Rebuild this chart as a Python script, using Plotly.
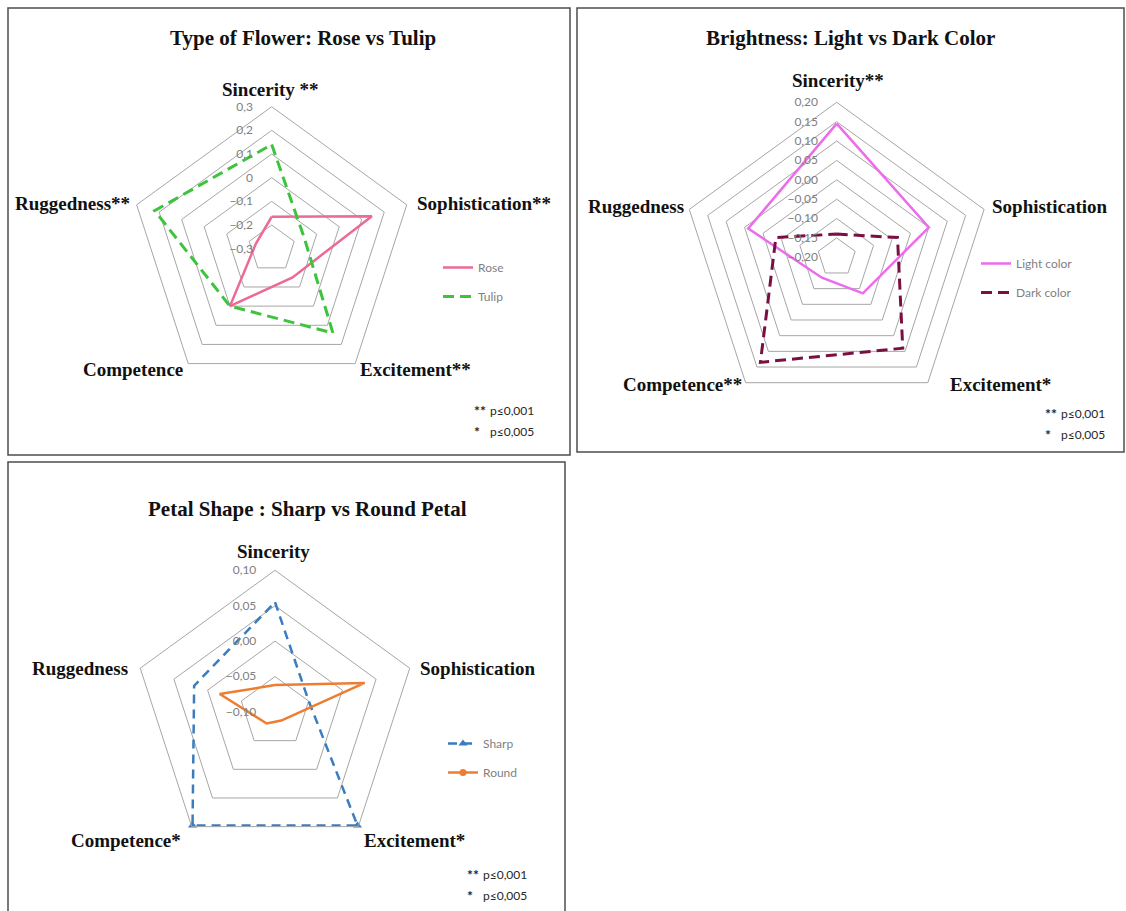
import plotly.graph_objects as go

# ---------------- data ----------------
axes = ["Sincerity", "Sophistication", "Excitement", "Competence", "Ruggedness"]

labels_flower = ["Sincerity **", "Sophistication**", "Excitement**", "Competence", "Ruggedness**"]
labels_bright = ["Sincerity**", "Sophistication", "Excitement*", "Competence**", "Ruggedness"]
labels_petal = ["Sincerity", "Sophistication", "Excitement*", "Competence*", "Ruggedness"]

rose = [-0.165, 0.145, -0.15, 0.0, -0.23]
tulip = [0.14, -0.155, 0.14, 0.0, 0.22]

light_color = [0.145, 0.05, -0.085, -0.135, 0.04]
dark_color = [-0.14, -0.035, 0.09, 0.135, -0.035]

sharp = [0.055, -0.05, 0.098, 0.098, 0.02]
round_petal = [-0.062, 0.033, -0.085, -0.08, -0.018]

titles = ["Type of Flower: Rose vs Tulip",
          "Brightness: Light vs Dark Color",
          "Petal Shape : Sharp vs Round Petal"]
footnote_stars = ["**", "*"]
footnote_text = ["p≤0,001", "p≤0,005"]

W, H = 1126, 911


def px(x):
    return x / W


def py(y):
    return (H - y) / H


def close(v):
    return list(v) + [v[0]]


fig = go.Figure()

thetas = close(axes)

fig.add_trace(go.Scatterpolar(r=close(rose), theta=thetas, mode="lines", name="Rose",
                              line=dict(color="#EC6A93", width=2.5), subplot="polar",
                              legend="legend", legendgroup="a"))
fig.add_trace(go.Scatterpolar(r=close(tulip), theta=thetas, mode="lines", name="Tulip",
                              line=dict(color="#3DC43D", width=3, dash="11px,6px"), subplot="polar",
                              legend="legend", legendgroup="b"))

fig.add_trace(go.Scatterpolar(r=close(light_color), theta=thetas, mode="lines", name="Light color",
                              line=dict(color="#EC6CEC", width=2.5), subplot="polar2",
                              legend="legend2", legendgroup="c"))
fig.add_trace(go.Scatterpolar(r=close(dark_color), theta=thetas, mode="lines", name="Dark color",
                              line=dict(color="#7A1042", width=3, dash="11px,6px"), subplot="polar2",
                              legend="legend2", legendgroup="d"))

fig.add_trace(go.Scatterpolar(r=close(sharp), theta=thetas, mode="lines+markers", name="Sharp",
                              line=dict(color="#3A7CC0", width=2.5, dash="9px,6px"),
                              marker=dict(symbol="triangle-up", size=8, color="#3A7CC0"),
                              subplot="polar3", legend="legend3", legendgroup="e"))
fig.add_trace(go.Scatterpolar(r=close(round_petal), theta=thetas, mode="lines+markers", name="Round",
                              line=dict(color="#ED7D31", width=2.5),
                              marker=dict(symbol="circle", size=7, color="#ED7D31"),
                              subplot="polar3", legend="legend3", legendgroup="f"))

grid_col = "#A6A6A6"
tick_font = dict(family="Lato, Liberation Sans, sans-serif", size=12, color="#808080")


def polar_layout(cx, cy, R, rng, dtick, fmt):
    return dict(
        domain=dict(x=[px(cx - R), px(cx + R)], y=[py(cy + R), py(cy - R)]),
        gridshape="linear",
        bgcolor="white",
        angularaxis=dict(direction="clockwise", rotation=90, showgrid=False,
                         showline=True, linecolor=grid_col, linewidth=1,
                         ticks="", showticklabels=False, categoryorder="array",
                         categoryarray=axes),
        radialaxis=dict(range=rng, dtick=dtick, tick0=rng[0], angle=90, tickangle=90,
                        showline=False, showgrid=True, gridcolor=grid_col, gridwidth=1,
                        ticks="outside", ticklen=14, tickcolor="rgba(0,0,0,0)",
                        side="counterclockwise", tickformat=fmt, tickfont=tick_font),
    )


fig.update_layout(
    width=W, height=H, autosize=False,
    margin=dict(l=0, r=0, t=0, b=0),
    paper_bgcolor="white",
    separators=", ",
    polar=polar_layout(271.7, 248.7, 142, [-0.3, 0.3], 0.1, ""),
    polar2=polar_layout(836.7, 257.3, 155, [-0.2, 0.2], 0.05, ".2f"),
    polar3=polar_layout(275, 712, 141.7, [-0.1, 0.1], 0.05, ".2f"),
)

leg_font = dict(family="Lato, Liberation Sans, sans-serif", size=12, color="#7F7F7F")


def legend_layout(x, y):
    return dict(x=px(x), y=py(y), xanchor="left", yanchor="top", font=leg_font,
                bgcolor="rgba(0,0,0,0)", tracegroupgap=10, traceorder="grouped",
                itemwidth=30)


fig.update_layout(legend=legend_layout(438, 253),
                  legend2=legend_layout(976, 249),
                  legend3=legend_layout(443, 729))

# panel borders
border = dict(color="#4D4D4D", width=1.5)
for (x0, y0, x1, y1) in [(8, 8, 570, 455), (577, 8, 1124, 452), (8, 462, 565, 915)]:
    fig.add_shape(type="rect", xref="paper", yref="paper",
                  x0=px(x0), x1=px(x1), y0=py(y1), y1=py(y0), line=border, fillcolor="rgba(0,0,0,0)")

annotations = []
title_font = dict(family="Liberation Serif, Times New Roman, serif", size=21, color="#111111")
for t, (x, y) in zip(titles, [(303, 38), (850, 38), (308, 509)]):
    annotations.append(dict(text="<b>%s</b>" % t, x=px(x), y=py(y), xref="paper", yref="paper",
                            showarrow=False, xanchor="center", yanchor="middle", font=title_font))

lab_font = dict(family="Liberation Serif, Times New Roman, serif", size=19, color="#111111")
label_pos = {
    0: [(270, 90), (484, 203), (415, 369), (133, 369), (72, 203)],
    1: [(838, 80), (1050, 206), (1000, 385), (682, 385), (636, 206)],
    2: [(273, 551), (478, 668), (414, 840), (126, 840), (80, 668)],
}
for i, labs in enumerate([labels_flower, labels_bright, labels_petal]):
    for lab, (x, y) in zip(labs, label_pos[i]):
        annotations.append(dict(text="<b>%s</b>" % lab, x=px(x), y=py(y), xref="paper", yref="paper",
                                showarrow=False, xanchor="center", yanchor="middle", font=lab_font))

foot_font = dict(family="Lato, Liberation Sans, sans-serif", size=12, color="#262626")
star_font = dict(family="Lato, Liberation Sans, sans-serif", size=14, color="#262626")
for (xs, xt, y0) in [(472, 488, 410), (1043, 1059, 413), (465, 481, 874)]:
    for k in range(2):
        annotations.append(dict(text="<b>%s</b>" % footnote_stars[k], x=px(xs), y=py(y0 + 21 * k),
                                xref="paper", yref="paper", showarrow=False, xanchor="left",
                                yanchor="middle", font=star_font))
        annotations.append(dict(text=footnote_text[k], x=px(xt), y=py(y0 + 21 * k), xref="paper",
                                yref="paper", showarrow=False, xanchor="left", yanchor="middle",
                                font=foot_font))

fig.update_layout(annotations=annotations)

fig.write_html("out.html", config={"displayModeBar": False},
               post_script="document.body.style.margin='0';")
